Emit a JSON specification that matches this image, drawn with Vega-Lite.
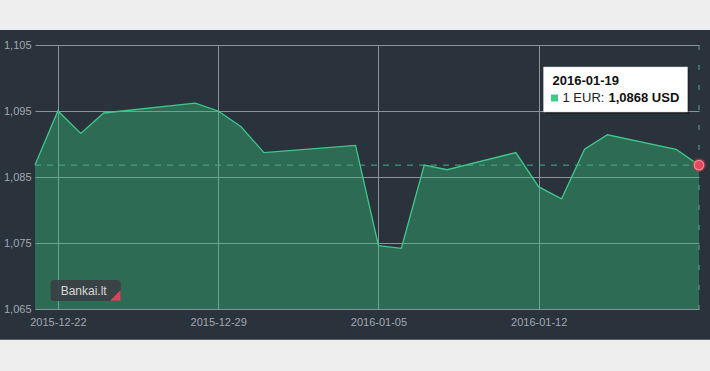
{
  "$schema": "https://vega.github.io/schema/vega-lite/v6.json",
  "width": 664,
  "height": 264,
  "autosize": {"type": "none"},
  "padding": {"left": 35, "top": 45, "right": 11, "bottom": 62},
  "background": "#2a323c",
  "config": {
    "view": {"stroke": null},
    "font": "Liberation Sans",
    "axis": {
      "gridColor": "#8a939c",
      "gridWidth": 1,
      "domain": false,
      "ticks": false,
      "labelColor": "#a2a8b0",
      "labelFont": "Liberation Sans",
      "labelFontSize": 11,
      "title": null
    }
  },
  "layer": [
    {
      "data": {"values": [
        {"date": "2015-12-21", "value": 1.0868},
        {"date": "2015-12-22", "value": 1.0950},
        {"date": "2015-12-23", "value": 1.0916},
        {"date": "2015-12-24", "value": 1.0947},
        {"date": "2015-12-28", "value": 1.0962},
        {"date": "2015-12-29", "value": 1.0950},
        {"date": "2015-12-30", "value": 1.0926},
        {"date": "2015-12-31", "value": 1.0887},
        {"date": "2016-01-04", "value": 1.0898},
        {"date": "2016-01-05", "value": 1.0746},
        {"date": "2016-01-06", "value": 1.0742},
        {"date": "2016-01-07", "value": 1.0868},
        {"date": "2016-01-08", "value": 1.0861},
        {"date": "2016-01-11", "value": 1.0887},
        {"date": "2016-01-12", "value": 1.0835},
        {"date": "2016-01-13", "value": 1.0817},
        {"date": "2016-01-14", "value": 1.0892},
        {"date": "2016-01-15", "value": 1.0914},
        {"date": "2016-01-18", "value": 1.0892},
        {"date": "2016-01-19", "value": 1.0868}
      ]},
      "encoding": {
        "x": {
          "field": "date",
          "type": "temporal",
          "scale": {
            "type": "utc",
            "domain": [
              {"year": 2015, "month": 12, "date": 21, "utc": true},
              {"year": 2016, "month": 1, "date": 19, "utc": true}
            ]
          },
          "axis": {
            "labelExpr": "utcFormat(datum.value, '%Y-%m-%d')",
            "labelPadding": 7,
            "labelFlush": false,
            "values": [
              {"year": 2015, "month": 12, "date": 22, "utc": true},
              {"year": 2015, "month": 12, "date": 29, "utc": true},
              {"year": 2016, "month": 1, "date": 5, "utc": true},
              {"year": 2016, "month": 1, "date": 12, "utc": true}
            ]
          }
        },
        "y": {
          "field": "value",
          "type": "quantitative",
          "scale": {"domain": [1.065, 1.105], "nice": false, "zero": false},
          "axis": {
            "values": [1.065, 1.075, 1.085, 1.095, 1.105],
            "labelExpr": "replace(format(datum.value, '.3f'), '.', ',')",
            "labelPadding": 4
          }
        }
      },
      "layer": [
        {
          "mark": {"type": "area", "color": "#34c078", "fillOpacity": 0.4},
          "encoding": {"y2": {"datum": 1.065}}
        },
        {
          "mark": {"type": "line", "color": "#3ec88a", "strokeWidth": 1.3}
        }
      ]
    },
    {
      "data": {"values": [{}]},
      "mark": {"type": "rect", "color": "#eeeeee", "clip": false},
      "encoding": {
        "x": {"datum": {"year": 2015, "month": 12, "date": 17, "utc": true}, "type": "temporal"},
        "x2": {"datum": {"year": 2016, "month": 1, "date": 22, "utc": true}},
        "y": {"datum": 1.10727, "type": "quantitative"},
        "y2": {"datum": 1.13}
      }
    },
    {
      "data": {"values": [{}]},
      "mark": {"type": "rect", "color": "#eeeeee", "clip": false},
      "encoding": {
        "x": {"datum": {"year": 2015, "month": 12, "date": 17, "utc": true}, "type": "temporal"},
        "x2": {"datum": {"year": 2016, "month": 1, "date": 22, "utc": true}},
        "y": {"datum": 1.06035, "type": "quantitative"},
        "y2": {"datum": 1.04}
      }
    },
    {
      "data": {"values": [{}]},
      "mark": {"type": "rule", "color": "#45b386", "strokeDash": [6, 6], "strokeWidth": 1},
      "encoding": {
        "x": {"datum": {"year": 2015, "month": 12, "date": 21, "utc": true}, "type": "temporal"},
        "x2": {"datum": {"year": 2016, "month": 1, "date": 19, "utc": true}},
        "y": {"datum": 1.0868, "type": "quantitative"}
      }
    },
    {
      "data": {"values": [{}]},
      "mark": {"type": "rule", "color": "#5aa88c", "strokeDash": [5, 15], "strokeWidth": 1},
      "encoding": {
        "x": {"datum": {"year": 2016, "month": 1, "date": 19, "utc": true}, "type": "temporal"},
        "y": {"datum": 1.105, "type": "quantitative"},
        "y2": {"datum": 1.065}
      }
    },
    {
      "data": {"values": [{}]},
      "mark": {"type": "point", "shape": "circle", "filled": true, "size": 190, "color": "#b8394c", "opacity": 0.6},
      "encoding": {
        "x": {"datum": {"year": 2016, "month": 1, "date": 19, "utc": true}, "type": "temporal"},
        "y": {"datum": 1.0868, "type": "quantitative"}
      }
    },
    {
      "data": {"values": [{}]},
      "mark": {"type": "point", "shape": "circle", "filled": true, "size": 90, "fill": "#e2475b", "stroke": "#f08a96", "strokeWidth": 1.2, "opacity": 1},
      "encoding": {
        "x": {"datum": {"year": 2016, "month": 1, "date": 19, "utc": true}, "type": "temporal"},
        "y": {"datum": 1.0868, "type": "quantitative"}
      }
    },
    {
      "data": {"values": [{}]},
      "mark": {"type": "rect", "fill": "#000000", "opacity": 0.3, "clip": false},
      "encoding": {
        "x": {"datum": {"year": 2016, "month": 1, "date": 12, "hours": 7, "utc": true}, "type": "temporal"},
        "x2": {"datum": {"year": 2016, "month": 1, "date": 18, "hours": 14, "utc": true}},
        "y": {"datum": 1.10137, "type": "quantitative"},
        "y2": {"datum": 1.09455}
      }
    },
    {
      "data": {"values": [{}]},
      "mark": {"type": "rect", "fill": "#ffffff", "stroke": "#d0d0d0", "strokeWidth": 0.5, "clip": false},
      "encoding": {
        "x": {"datum": {"year": 2016, "month": 1, "date": 12, "hours": 5, "utc": true}, "type": "temporal"},
        "x2": {"datum": {"year": 2016, "month": 1, "date": 18, "hours": 12, "utc": true}},
        "y": {"datum": 1.10167, "type": "quantitative"},
        "y2": {"datum": 1.09485}
      }
    },
    {
      "data": {"values": [{}]},
      "mark": {"type": "text", "text": "2016-01-19", "align": "left", "baseline": "alphabetic", "dx": 9, "fontSize": 13, "fontWeight": "bold", "color": "#111111"},
      "encoding": {
        "x": {"datum": {"year": 2016, "month": 1, "date": 12, "hours": 5, "utc": true}, "type": "temporal"},
        "y": {"datum": 1.09894, "type": "quantitative"}
      }
    },
    {
      "data": {"values": [{}]},
      "mark": {"type": "point", "shape": "square", "filled": true, "size": 49, "color": "#3ecb8a", "opacity": 1, "xOffset": 11},
      "encoding": {
        "x": {"datum": {"year": 2016, "month": 1, "date": 12, "hours": 5, "utc": true}, "type": "temporal"},
        "y": {"datum": 1.09697, "type": "quantitative"}
      }
    },
    {
      "data": {"values": [{}]},
      "mark": {"type": "text", "text": "1 EUR:", "align": "left", "baseline": "alphabetic", "dx": 19, "fontSize": 13, "color": "#222222"},
      "encoding": {
        "x": {"datum": {"year": 2016, "month": 1, "date": 12, "hours": 5, "utc": true}, "type": "temporal"},
        "y": {"datum": 1.09636, "type": "quantitative"}
      }
    },
    {
      "data": {"values": [{}]},
      "mark": {"type": "text", "text": "1,0868 USD", "align": "left", "baseline": "alphabetic", "dx": 65, "fontSize": 13, "fontWeight": "bold", "color": "#111111"},
      "encoding": {
        "x": {"datum": {"year": 2016, "month": 1, "date": 12, "hours": 5, "utc": true}, "type": "temporal"},
        "y": {"datum": 1.09636, "type": "quantitative"}
      }
    },
    {
      "data": {"values": [{}]},
      "mark": {"type": "rect", "fill": "#3b3e42", "opacity": 0.9, "cornerRadius": 3},
      "encoding": {
        "x": {"datum": {"year": 2015, "month": 12, "date": 21, "hours": 16, "minutes": 23, "utc": true}, "type": "temporal"},
        "x2": {"datum": {"year": 2015, "month": 12, "date": 24, "hours": 17, "minutes": 53, "utc": true}},
        "y": {"datum": 1.06939, "type": "quantitative"},
        "y2": {"datum": 1.06621}
      }
    },
    {
      "data": {"values": [{}]},
      "mark": {"type": "point", "shape": "M 1 -1 L 1 1 L -1 1 Z", "filled": true, "size": 110, "color": "#d9465a", "opacity": 1},
      "encoding": {
        "x": {"datum": {"year": 2015, "month": 12, "date": 24, "hours": 12, "minutes": 6, "utc": true}, "type": "temporal"},
        "y": {"datum": 1.06705, "type": "quantitative"}
      }
    },
    {
      "data": {"values": [{}]},
      "mark": {"type": "text", "text": "Bankai.lt", "align": "center", "baseline": "alphabetic", "fontSize": 12, "color": "#d8d8d8"},
      "encoding": {
        "x": {"datum": {"year": 2015, "month": 12, "date": 23, "hours": 3, "utc": true}, "type": "temporal"},
        "y": {"datum": 1.06712, "type": "quantitative"}
      }
    }
  ]
}
